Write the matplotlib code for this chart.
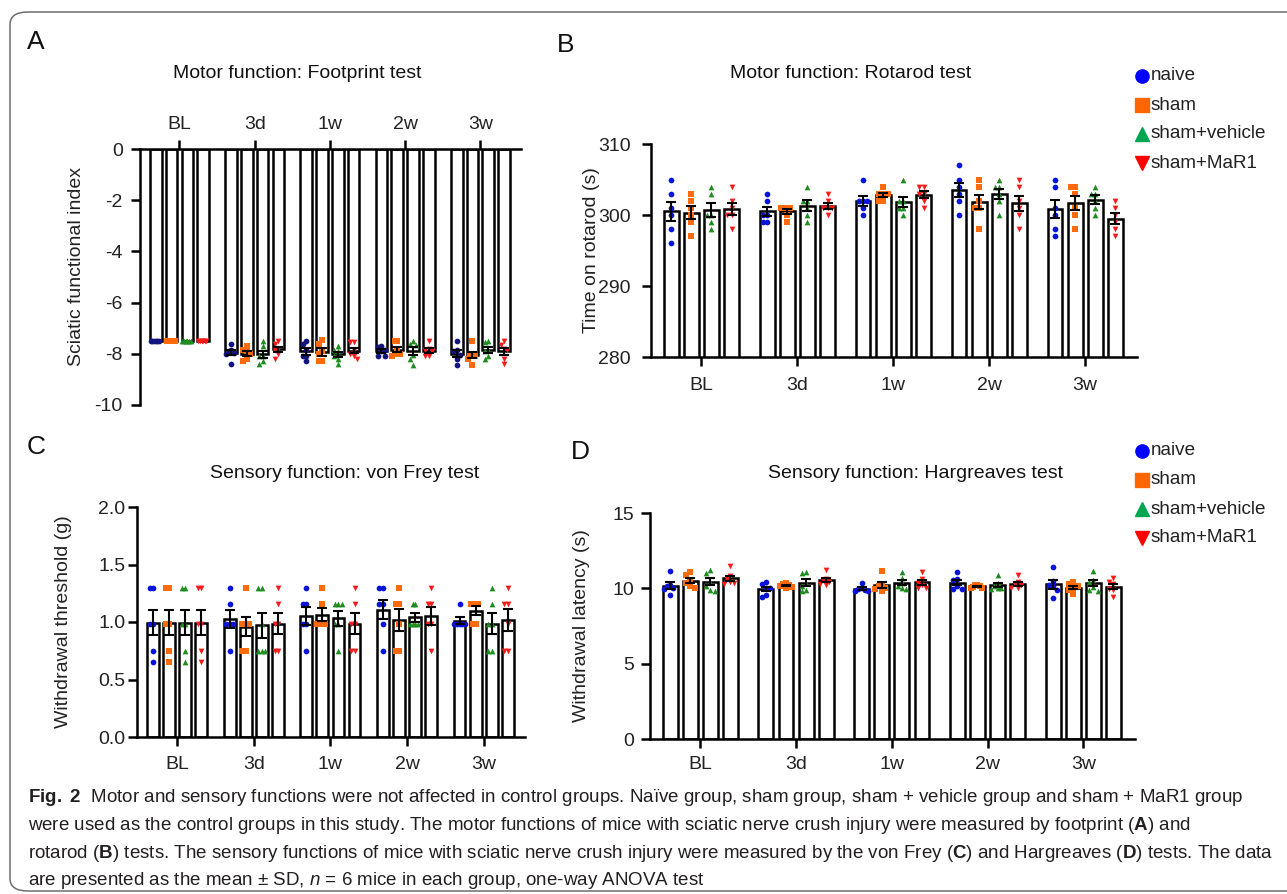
import matplotlib
matplotlib.use("Agg")
import matplotlib.pyplot as plt
import numpy as np
from matplotlib.lines import Line2D
from matplotlib.patches import FancyBboxPatch
from matplotlib.ticker import FormatStrFormatter

plt.rcParams['font.family'] = ['Liberation Sans', 'DejaVu Sans']
plt.rcParams['axes.unicode_minus'] = False
plt.rcParams['mathtext.fontset'] = 'custom'
plt.rcParams['mathtext.rm'] = 'Liberation Sans'
plt.rcParams['mathtext.bf'] = 'Liberation Sans:bold'
plt.rcParams['mathtext.it'] = 'Liberation Sans:italic'

timepoints = ["BL", "3d", "1w", "2w", "3w"]
groups = ["naive", "sham", "sham+vehicle", "sham+MaR1"]

# footprint test: sciatic functional index, 6 mice per group, rows = time points
sfi_naive = [[-7.5, -7.5, -7.5, -7.5, -7.5, -7.5],
             [-7.6, -7.85, -7.9, -7.95, -8.0, -8.4],
             [-7.5, -7.6, -7.87, -8.08, -8.1, -8.3],
             [-7.7, -7.75, -7.85, -7.9, -8.1, -8.1],
             [-7.5, -7.87, -7.9, -8.05, -8.2, -8.43]]
sfi_sham = [[-7.5, -7.5, -7.5, -7.5, -7.5, -7.5],
            [-7.7, -7.85, -7.9, -8.0, -8.2, -8.3],
            [-7.45, -7.6, -7.9, -8.0, -8.3, -8.3],
            [-7.5, -7.5, -7.9, -8.0, -8.0, -8.1],
            [-7.5, -8.0, -8.05, -8.1, -8.2, -8.43]]
sfi_vehicle = [[-7.5, -7.5, -7.5, -7.5, -7.5, -7.5],
               [-7.5, -7.7, -8.1, -8.1, -8.3, -8.4],
               [-7.7, -7.85, -7.9, -8.1, -8.2, -8.4],
               [-7.5, -7.6, -7.65, -8.05, -8.2, -8.45],
               [-7.5, -7.55, -7.85, -7.9, -8.1, -8.2]]
sfi_mar1 = [[-7.5, -7.5, -7.5, -7.5, -7.5, -7.5],
            [-7.5, -7.6, -7.8, -7.85, -8.0, -8.2],
            [-7.55, -7.55, -7.85, -8.0, -8.1, -8.2],
            [-7.5, -7.8, -7.85, -7.9, -8.1, -8.1],
            [-7.5, -7.65, -7.8, -7.85, -8.2, -8.4]]

# rotarod: time on rod (s)
rot_naive = [[305, 303, 301, 300, 298, 296], [303, 302, 300, 300, 299, 299],
             [305, 302, 302, 302, 301, 300], [307, 305, 304, 303, 302, 300],
             [305, 304, 301, 300, 298, 297]]
rot_sham = [[303, 302, 301, 300, 299, 297], [301, 301, 301, 301, 300, 299],
            [304, 303, 303, 303, 302, 302], [305, 304, 302, 301, 301, 298],
            [304, 304, 303, 301, 300, 298]]
rot_vehicle = [[304, 303, 300, 300, 299, 298], [304, 302, 302, 301, 300, 299],
               [305, 302, 302, 301, 301, 300], [305, 304, 304, 303, 302, 300],
               [304, 303, 303, 302, 301, 300]]
rot_mar1 = [[304, 302, 301, 300, 300, 298], [303, 302, 301, 301, 301, 300],
            [304, 304, 303, 303, 302, 301], [305, 304, 302, 301, 300, 298],
            [302, 301, 300, 299, 298, 297]]

# von Frey: withdrawal threshold (g)
vf_naive = [[1.3, 1.3, 0.98, 0.98, 0.75, 0.65], [1.3, 1.16, 0.98, 0.98, 0.98, 0.75],
            [1.3, 1.16, 1.16, 0.98, 0.98, 0.75], [1.3, 1.3, 1.16, 1.16, 0.98, 0.75],
            [1.16, 0.98, 0.98, 0.98, 0.98, 0.98]]
vf_sham = [[1.3, 1.3, 0.98, 0.98, 0.75, 0.65], [1.3, 0.98, 0.98, 0.98, 0.75, 0.75],
           [1.3, 1.16, 0.98, 0.98, 0.98, 0.98], [1.3, 1.16, 1.16, 0.98, 0.75, 0.75],
           [1.16, 1.16, 1.16, 1.16, 0.98, 0.98]]
vf_vehicle = [[1.3, 1.3, 0.98, 0.98, 0.75, 0.65], [1.3, 1.3, 0.98, 0.75, 0.75, 0.75],
              [1.16, 1.16, 1.16, 0.98, 0.98, 0.75], [1.16, 1.16, 0.98, 0.98, 0.98, 0.98],
              [1.3, 1.16, 0.98, 0.98, 0.75, 0.75]]
vf_mar1 = [[1.3, 1.3, 0.98, 0.98, 0.75, 0.65], [1.3, 1.16, 0.98, 0.98, 0.75, 0.75],
           [1.3, 1.16, 0.98, 0.98, 0.75, 0.75], [1.3, 1.16, 1.16, 0.98, 0.98, 0.75],
           [1.3, 1.16, 1.16, 0.98, 0.75, 0.75]]

# Hargreaves: withdrawal latency (s)
hg_naive = [[11.17, 10.2, 10.15, 10.0, 9.95, 9.55], [10.4, 10.3, 10.05, 10.0, 9.55, 9.45],
            [10.35, 10.0, 9.95, 9.9, 9.85, 9.85], [11.1, 10.6, 10.55, 10.15, 9.95, 9.95],
            [11.42, 10.5, 10.2, 10.15, 9.9, 9.37]]
hg_sham = [[11.1, 10.9, 10.55, 10.35, 10.15, 10.05], [10.35, 10.3, 10.2, 10.15, 10.1, 10.0],
           [11.15, 10.2, 10.15, 10.05, 9.95, 9.85], [10.25, 10.2, 10.15, 10.1, 10.05, 10.0],
           [10.42, 10.3, 10.13, 9.98, 9.87, 9.6]]
hg_vehicle = [[11.25, 11.0, 10.45, 10.15, 9.9, 9.85], [11.1, 11.0, 10.35, 10.15, 9.9, 9.8],
              [11.1, 10.7, 10.35, 10.15, 10.0, 9.95], [10.9, 10.35, 10.15, 10.05, 10.0, 9.95],
              [11.17, 10.55, 10.45, 10.07, 9.9, 9.85]]
hg_mar1 = [[11.5, 10.8, 10.6, 10.45, 10.35, 10.3], [11.2, 10.6, 10.55, 10.4, 10.3, 10.2],
           [11.1, 10.65, 10.35, 10.2, 10.05, 10.0], [10.9, 10.4, 10.3, 10.2, 10.05, 10.0],
           [10.7, 10.42, 10.3, 9.98, 9.87, 9.42]]

markers = ['o', 's', '^', 'v']
colors_a = ['#14147e', '#ff6a0a', '#1e8c1e', '#ff1a1a']
colors_bcd = ['#0a14d8', '#ff6a0a', '#1e8c1e', '#ff1a1a']
legend_colors = ['#0000ff', '#ff6600', '#00a651', '#ff0000']
FS = 14

W, H = 1287, 894
def fx(px):
    return px / W
def fy(py):
    return 1 - py / H

fig = plt.figure(figsize=(W / 100, H / 100), dpi=100)

# frame round the figure
fig.add_artist(FancyBboxPatch((fx(10), fy(891)), fx(1310) - fx(10), fy(12) - fy(891),
                              boxstyle='round,pad=0,rounding_size=0.014',
                              transform=fig.transFigure, fill=False,
                              ec='#6e6e6e', lw=1.1, clip_on=False))


def swarm(vals, ythr, d=0.045, maxoff=0.066):
    placed = []
    out = []
    for v in vals:
        for off in [0, -d, d, -2 * d, 2 * d, -3 * d, 3 * d]:
            if all(abs(v - pv) >= ythr or abs(off - po) >= d * 0.99 for pv, po in placed):
                break
        placed.append((v, off))
        out.append(off)
    out = np.array(out, dtype=float)
    m = np.abs(out).max()
    if m > maxoff:
        out *= maxoff / m
    return out


def draw_panel(ax, series, colors, ythr):
    x = np.arange(len(timepoints))
    offsets = (np.arange(4) - 1.5) * 0.21
    for i, vals in enumerate(series):
        arr = np.array(vals, dtype=float)
        mean = arr.mean(axis=1)
        sem = arr.std(axis=1, ddof=1) / np.sqrt(arr.shape[1])
        xpos = x + offsets[i]
        ax.bar(xpos, mean, width=0.155, facecolor='white', edgecolor='black',
               linewidth=1.8, zorder=1)
        for k in range(len(x)):
            dx = swarm(arr[k], ythr)
            ax.scatter(xpos[k] + dx, arr[k], s=17, marker=markers[i], color=colors[i],
                       linewidths=0, zorder=2, clip_on=False)
        ok = sem > 1e-9
        ax.errorbar(xpos[ok], mean[ok], yerr=sem[ok], fmt='none', ecolor='black',
                    elinewidth=1.5, capsize=3.8, capthick=1.5, zorder=3)
    ax.set_xticks(x)
    ax.set_xticklabels(timepoints)
    ax.set_xlim(-0.525, 4.54)
    for s in ['top', 'right']:
        ax.spines[s].set_visible(False)
    for s in ['left', 'bottom', 'top']:
        ax.spines[s].set_linewidth(1.8)
    ax.tick_params(axis='both', length=6.5, width=1.8, labelsize=FS, colors='black')
    ax.tick_params(axis='both', labelcolor='#222222')


def axes_px(left, right, top, bottom):
    return fig.add_axes([fx(left), fy(bottom), fx(right) - fx(left), fy(top) - fy(bottom)])


# A: footprint
axA = axes_px(140, 521, 149, 405)
draw_panel(axA, [sfi_naive, sfi_sham, sfi_vehicle, sfi_mar1], colors_a, 0.2)
axA.set_ylim(-10, 0)
axA.set_yticks([0, -2, -4, -6, -8, -10])
axA.spines['bottom'].set_visible(False)
axA.spines['top'].set_visible(True)
axA.xaxis.tick_top()
axA.tick_params(axis='x', pad=5)
axA.tick_params(axis='y', pad=6)
axA.set_ylabel("Sciatic functional index", fontsize=FS, color='#222222')
axA.yaxis.set_label_coords((85 - 140) / 381, 0.54)

# B: rotarod
axB = axes_px(651, 1137, 144, 357)
draw_panel(axB, [rot_naive, rot_sham, rot_vehicle, rot_mar1], colors_bcd, 0.7)
axB.set_ylim(280, 310)
axB.set_yticks([280, 290, 300, 310])
axB.tick_params(axis='x', pad=8)
axB.tick_params(axis='y', pad=8)
axB.set_ylabel("Time on rotarod (s)", fontsize=FS, color='#222222')
axB.yaxis.set_label_coords((600 - 651) / 486, 0.5)

# C: von Frey
axC = axes_px(137, 525, 507, 737)
draw_panel(axC, [vf_naive, vf_sham, vf_vehicle, vf_mar1], colors_bcd, 0.045)
axC.set_ylim(0, 2.0)
axC.set_yticks([0, 0.5, 1.0, 1.5, 2.0])
axC.yaxis.set_major_formatter(FormatStrFormatter('%.1f'))
axC.tick_params(axis='x', pad=7)
axC.tick_params(axis='y', pad=2)
axC.set_ylabel("Withdrawal threshold (g)", fontsize=FS, color='#222222')
axC.yaxis.set_label_coords((72 - 137) / 388, 0.5)

# D: Hargreaves
axD = axes_px(650, 1135, 513, 739)
draw_panel(axD, [hg_naive, hg_sham, hg_vehicle, hg_mar1], colors_bcd, 0.33)
axD.set_ylim(0, 15)
axD.set_yticks([0, 5, 10, 15])
axD.tick_params(axis='x', pad=6)
axD.tick_params(axis='y', pad=5)
axD.set_ylabel("Withdrawal latency (s)", fontsize=FS, color='#222222')
axD.yaxis.set_label_coords((590 - 650) / 485, 0.5)

# titles and panel letters
titles = [("Motor function: Footprint test", 297, 73),
          ("Motor function: Rotarod test", 851, 73),
          ("Sensory function: von Frey test", 345, 473),
          ("Sensory function: Hargreaves test", 916, 473)]
for t, px, py in titles:
    fig.text(fx(px), fy(py), t, ha='center', va='center', fontsize=FS, color='#111111')
for letter, px, py in [("A", 27, 42), ("B", 557, 45), ("C", 27, 447), ("D", 571, 452)]:
    fig.text(fx(px), fy(py), letter, ha='left', va='center', fontsize=19, color='#111111')

# legends
for ys in ([76, 105, 134, 163], [451, 480, 509, 538]):
    for lab, m, c, py in zip(groups, markers, legend_colors, ys):
        fig.add_artist(Line2D([fx(1142)], [fy(py)], transform=fig.transFigure,
                              marker=m, markersize=9.5, color=c, linestyle='none'))
        fig.text(fx(1151), fy(py), lab, ha='left', va='center', fontsize=13.6, color='#222222')

# caption
caption = [
    r"$\mathbf{Fig.\ 2}$  Motor and sensory functions were not affected in control groups. Naïve group, sham group, sham + vehicle group and sham + MaR1 group",
    r"were used as the control groups in this study. The motor functions of mice with sciatic nerve crush injury were measured by footprint ($\mathbf{A}$) and",
    r"rotarod ($\mathbf{B}$) tests. The sensory functions of mice with sciatic nerve crush injury were measured by the von Frey ($\mathbf{C}$) and Hargreaves ($\mathbf{D}$) tests. The data",
    r"are presented as the mean ± SD, $\mathit{n}$ = 6 mice in each group, one-way ANOVA test",
]
cap_texts = []
for line, py in zip(caption, [802, 830, 858, 885]):
    cap_texts.append(fig.text(fx(28), fy(py), line, ha='left', va='baseline',
                              fontsize=12, color='#231f20'))
renderer = fig.canvas.get_renderer()
w3 = cap_texts[2].get_window_extent(renderer).width
scale = (1270 - 28) / w3
for t in cap_texts:
    t.set_fontsize(12 * scale)

fig.savefig("out.png", dpi=100)
